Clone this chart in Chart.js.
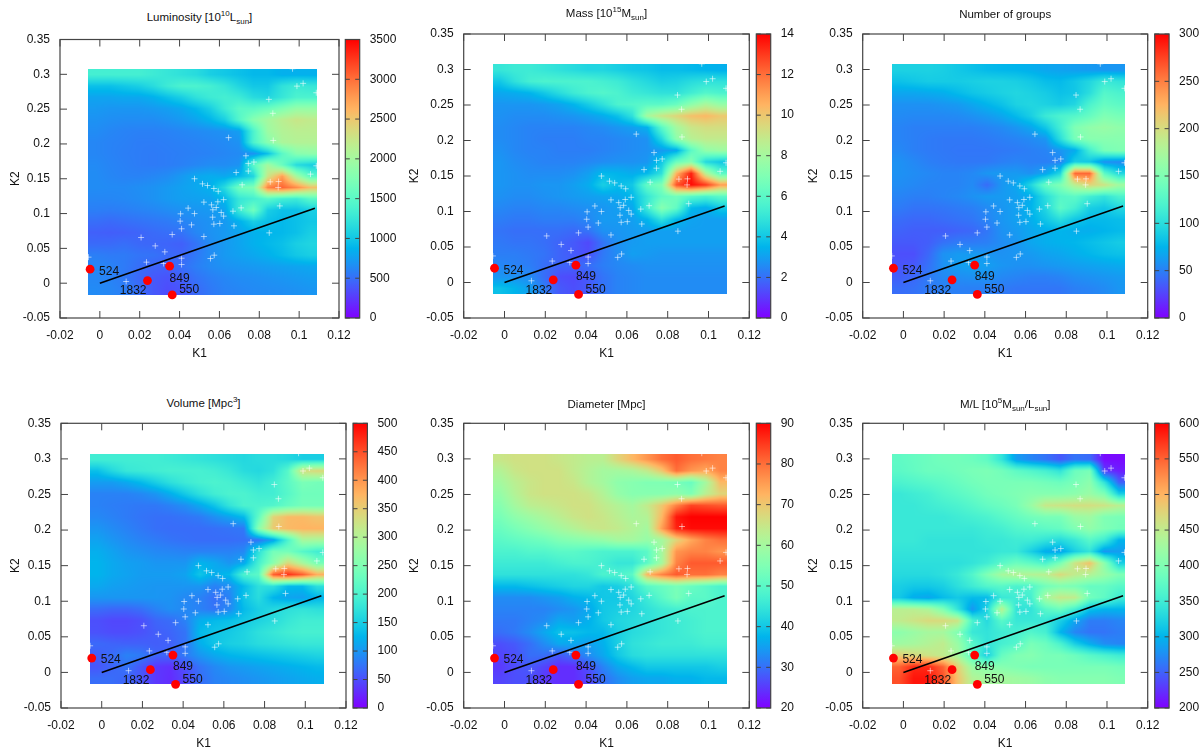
<!DOCTYPE html>
<html>
<head>
<meta charset="utf-8">
<script src="https://cdn.jsdelivr.net/npm/chart.js@4"></script>
<style>
html, body { margin: 0; background: #fff; overflow: hidden; }
#page { position: relative; width: 1200px; height: 756px; overflow: hidden; font-family: "Liberation Sans", sans-serif; color: #111; }
canvas { position: absolute; }
.title { position: absolute; transform: translateX(-50%); white-space: nowrap; font-size: 11.5px; line-height: 14px; }
.title sup, .title sub { font-size: 8px; line-height: 0; }
</style>
</head>
<body>
<div id="page"></div>
<script>
// cell centres of the grid
const k1Cols = [-0.0021, 0.0051, 0.0122, 0.0194, 0.0266, 0.0338, 0.0409, 0.0481, 0.0553, 0.0625, 0.0696, 0.0768, 0.0840, 0.0912, 0.0983, 0.1055];
const k2Rows = [0.2994, 0.2832, 0.2670, 0.2508, 0.2346, 0.2184, 0.2022, 0.1860, 0.1698, 0.1536, 0.1374, 0.1212, 0.1050, 0.0888, 0.0726, 0.0564, 0.0402, 0.0240, 0.0078, -0.0084];
const heatK1 = [-0.0057, 0.109];
const heatK2 = [-0.0165, 0.3075];

const xTicks = [-0.02, 0, 0.02, 0.04, 0.06, 0.08, 0.1, 0.12];
const yTicks = [-0.05, 0, 0.05, 0.1, 0.15, 0.2, 0.25, 0.3, 0.35];

const lumTicks = [0, 500, 1000, 1500, 2000, 2500, 3000, 3500];
const massTicks = [0, 2, 4, 6, 8, 10, 12, 14];
const groupTicks = [0, 50, 100, 150, 200, 250, 300];
const volTicks = [0, 50, 100, 150, 200, 250, 300, 350, 400, 450, 500];
const diamTicks = [20, 30, 40, 50, 60, 70, 80, 90];
const mlTicks = [200, 250, 300, 350, 400, 450, 500, 550, 600];

const clusterK1 = [.0967, .0989, .102, .1086, .0848, .0868, .0646, .087, .0733, .0745, .0773, .0745, .0684, .1086, .1057, .0475, .0515, .054, .0572, .0594, .0714, .0855, .0897, .0895, .0621, .0522, .056, .0592, .0584, .0567, .0443, .0475, .0405, .0609, .0621, .0668, .0709, .0903, .0566, .0403, .0572, .0602, .0673, .046, .041, .0363, .0522, .085, .0207, .0278, .0326, .041, .041, .0555, .0574, .0234, .032, .0132, -.0057];
const clusterK2 = [.308, .283, .287, .2735, .264, .244, .209, .205, .183, .172, .174, .161, .159, .1686, .1566, .15, .1427, .1403, .136, .132, .1413, .1456, .146, .1375, .12, .1164, .1125, .1169, .1087, .1054, .1078, .1, .0996, .1015, .0963, .1034, .1082, .111, .0948, .0891, .0848, .0857, .0824, .0838, .0781, .0699, .067, .0723, .0656, .0536, .045, .0359, .0268, .0354, .0402, .0302, .0283, .0024, .0374];

const lineK1 = [0, 0.1079];
const lineK2 = [0, 0.1078];

const namedK1 = [-0.0049, 0.035, 0.0239, 0.0363];
const namedK2 = [0.0201, 0.0244, 0.0038, -0.0168];
const namedLabels = ['524', '849', '1832', '550'];

const lumGrid = [
[1350,1350,1350,1350,1300,1250,1200,1150,1050,1000,950,900,900,850,850,850],
[950,950,1000,1050,1150,1300,1400,1400,1350,1250,1100,1000,1000,1200,1300,1250],
[780,780,800,800,850,950,1050,1200,1300,1350,1300,1150,1100,1250,1400,1400],
[720,700,700,700,720,750,800,900,1050,1300,1500,1500,1600,1750,1900,1900],
[680,660,650,650,650,680,720,780,880,1050,1450,1800,2000,2150,2250,2200],
[650,620,600,590,590,600,620,640,660,680,750,1400,1950,2100,2150,2150],
[620,600,590,570,570,580,590,600,620,640,680,1400,1800,2050,2100,2100],
[620,600,580,570,560,570,580,590,600,620,640,680,950,1500,1800,1850],
[640,610,590,570,560,570,590,620,650,650,680,1500,2000,1600,1150,1050],
[650,620,600,600,620,650,720,800,830,800,900,1100,2250,2750,2000,1500],
[650,640,640,660,680,720,760,800,850,1150,1650,1750,2900,3050,2850,2550],
[620,620,630,650,680,720,750,760,780,900,1250,1350,1500,1350,1300,1500],
[580,570,580,600,620,650,680,700,720,780,1300,1650,1050,950,950,1050],
[500,480,500,520,540,560,600,650,680,720,850,1050,950,900,950,1000],
[430,420,430,450,480,500,520,620,680,720,780,850,880,900,950,1050],
[480,480,500,470,460,450,430,520,650,720,780,850,900,950,1050,1100],
[580,560,560,530,520,480,460,550,650,720,760,800,850,920,1000,1050],
[620,600,560,500,450,440,500,580,640,680,700,720,740,760,780,800],
[620,600,550,470,400,370,430,520,580,620,650,660,680,700,720,740],
[640,620,580,500,400,340,380,480,550,600,620,640,650,660,680,700]
];

const massGrid = [
[5.0,5.2,5.2,5.0,4.8,4.6,4.4,4.4,4.2,4.0,3.9,3.7,3.7,3.6,3.5,3.4],
[4.0,4.8,5.4,5.6,5.6,5.6,5.6,5.4,5.2,4.8,4.5,4.2,4.3,4.6,4.8,4.8],
[3.2,3.3,3.5,4.0,4.6,5.2,5.6,5.8,5.6,5.2,5.0,4.8,4.8,5.3,5.8,5.6],
[2.8,2.8,2.8,2.9,3.1,3.5,4.1,4.8,5.6,5.8,6.0,6.0,6.4,7.4,8.2,7.6],
[2.7,2.6,2.6,2.6,2.7,2.8,3.0,3.3,3.8,4.8,8.0,9.0,9.6,10.2,10.4,10.0],
[2.6,2.5,2.4,2.4,2.4,2.4,2.5,2.6,2.8,3.0,3.4,6.0,8.0,9.0,9.3,9.3],
[2.6,2.5,2.4,2.3,2.3,2.3,2.4,2.4,2.5,2.6,2.7,4.5,7.4,8.5,8.8,8.8],
[2.7,2.5,2.4,2.4,2.3,2.3,2.3,2.4,2.5,2.6,2.7,2.9,3.2,6.0,7.5,7.8],
[2.8,2.6,2.5,2.4,2.4,2.4,2.5,2.6,2.7,2.7,2.8,4.0,6.5,7.2,4.5,4.0],
[2.8,2.7,2.6,2.6,2.6,2.7,3.0,3.6,3.5,3.3,3.6,4.8,10.5,13.5,8.5,6.0],
[2.8,2.7,2.7,2.8,2.8,3.0,3.3,4.2,3.7,4.0,6.2,7.0,12.5,13.8,13.0,11.0],
[2.7,2.6,2.6,2.7,2.8,2.9,3.0,3.1,3.2,3.6,5.0,6.2,6.6,6.0,5.6,6.0],
[2.5,2.4,2.4,2.5,2.5,2.6,2.7,2.8,3.0,3.2,5.2,7.2,6.2,3.6,3.3,4.0],
[2.3,2.2,2.2,2.3,2.3,2.3,2.5,2.9,2.9,3.0,3.5,4.8,3.6,3.1,3.0,3.0],
[2.1,2.0,2.0,2.0,2.0,1.9,2.1,2.7,2.8,2.9,3.0,3.0,3.0,3.0,3.0,3.0],
[2.2,2.1,2.1,2.0,1.8,1.6,1.3,2.1,2.7,2.9,3.0,3.0,3.0,3.0,3.0,3.0],
[2.3,2.3,2.2,2.1,1.8,1.6,1.4,2.2,2.6,3.0,2.9,2.8,2.8,2.8,2.8,2.8],
[2.5,2.4,2.3,2.0,1.8,1.8,2.0,2.3,2.5,2.6,2.7,2.7,2.7,2.7,2.7,2.7],
[2.8,2.7,2.6,2.0,1.4,1.3,1.6,2.1,2.4,2.5,2.6,2.6,2.6,2.6,2.6,2.6],
[3.8,3.5,3.0,2.3,1.6,1.4,1.6,2.1,2.4,2.5,2.6,2.6,2.6,2.6,2.6,2.6]
];

const groupGrid = [
[92,92,92,90,86,82,78,76,75,72,68,66,64,62,60,60],
[82,85,88,88,88,90,92,92,90,86,80,78,85,95,110,105],
[68,68,70,72,78,84,88,92,95,92,88,82,85,100,125,120],
[58,58,58,60,62,68,75,82,92,95,92,88,95,120,135,130],
[55,54,54,54,55,58,62,68,78,90,110,120,125,135,150,145],
[52,50,50,50,50,50,52,55,60,68,85,115,150,160,165,160],
[52,50,48,47,47,47,48,50,52,55,60,100,145,155,155,155],
[54,50,48,47,46,46,46,47,48,50,52,60,70,115,145,150],
[58,54,50,48,47,47,47,50,52,50,50,52,90,85,58,55],
[58,56,54,52,52,54,60,62,62,58,68,95,260,260,130,95],
[56,54,52,52,52,55,42,60,68,95,135,150,185,205,195,170],
[52,50,50,52,54,58,62,62,65,72,100,125,130,115,105,120],
[48,45,45,46,48,50,55,60,65,75,95,130,115,90,85,95],
[42,40,40,42,44,46,52,60,65,72,85,100,85,78,78,80],
[38,36,36,36,38,40,46,58,62,68,72,75,72,72,75,78],
[34,34,36,44,48,48,50,56,60,68,72,74,76,80,84,88],
[30,30,40,58,62,62,60,58,60,62,66,68,72,76,80,82],
[32,34,44,58,64,66,64,60,58,58,60,62,64,66,68,70],
[36,40,48,54,56,58,58,54,52,50,50,52,56,58,60,62],
[42,44,48,50,50,50,50,48,46,46,46,46,50,52,55,60]
];

const volGrid = [
[190,190,190,190,190,185,180,175,170,165,160,165,165,160,150,150],
[135,160,180,185,190,195,195,195,190,180,165,160,170,210,330,340],
[105,105,115,130,150,170,185,195,200,195,185,175,190,215,245,240],
[85,85,85,90,100,120,145,170,190,200,200,190,190,210,235,235],
[85,82,80,78,78,85,95,115,140,175,200,200,205,225,240,240],
[90,85,80,75,72,72,75,80,95,110,130,220,345,370,370,360],
[100,92,85,78,72,70,70,70,72,75,78,260,355,370,375,375],
[110,100,92,85,80,75,72,70,70,70,72,75,110,200,290,290],
[120,110,100,95,90,88,85,85,85,85,90,170,240,240,210,190],
[125,115,108,105,100,100,100,125,115,100,115,195,260,340,290,240],
[125,115,110,105,105,105,110,140,120,130,200,215,440,470,440,380],
[115,108,105,102,100,100,100,100,85,95,130,170,170,130,130,170],
[100,100,100,100,100,98,90,85,72,85,140,165,125,112,108,125],
[70,66,66,72,85,95,90,85,75,90,130,150,160,170,175,170],
[50,45,45,50,65,70,85,120,130,135,145,155,165,180,190,190],
[52,48,48,52,60,65,75,130,140,145,155,170,180,190,195,195],
[68,64,62,62,60,62,75,120,140,150,155,165,170,175,180,180],
[60,70,85,80,65,65,80,100,115,125,130,135,140,145,150,155],
[55,65,75,55,35,30,50,75,90,100,105,110,115,120,125,130],
[70,70,65,55,35,28,45,70,85,90,95,100,105,110,115,120]
];

const diamGrid = [
[65,66,66,66,65,64,63,63,68,72,76,80,82,80,79,78],
[62,65,66,66,66,64,62,60,60,61,64,70,80,76,74,78],
[60,63,65,66,66,65,62,60,57,56,55,55,54,52,60,72],
[58,62,65,66,66,66,65,62,58,56,56,56,57,55,63,68],
[56,60,63,64,65,66,66,64,62,60,64,70,78,84,83,82],
[54,57,59,61,63,65,66,65,63,61,62,72,88,90,90,90],
[52,54,56,58,60,62,64,65,64,62,60,75,87,89,89,89],
[50,51,52,53,55,56,57,58,60,60,58,60,68,74,78,80],
[48,48,49,49,50,50,49,48,48,48,50,60,76,78,78,76],
[46,46,46,46,47,48,48,47,45,45,50,60,78,82,82,82],
[44,44,44,44,44,44,45,48,48,50,72,78,82,80,80,78],
[38,38,39,40,41,42,42,40,41,44,50,52,54,52,50,48],
[33,33,33,34,35,37,38,40,40,42,46,50,54,50,50,48],
[32,32,32,32,33,34,36,40,41,42,44,46,47,48,48,48],
[31,31,32,33,36,35,37,40,42,43,44,45,46,47,48,48],
[30,31,33,36,39,39,38,38,41,43,44,45,46,47,48,48],
[27,28,30,33,36,36,35,37,41,44,45,46,46,46,47,47],
[26,27,30,30,28,30,33,36,40,43,44,44,44,44,44,44],
[25,27,28,26,24,24,27,32,36,38,40,40,40,40,40,41],
[26,27,27,25,24,24,26,30,33,35,36,36,37,37,38,38]
];

const mlGrid = [
[375,380,385,390,390,385,375,340,285,270,260,245,260,255,205,205],
[372,378,385,385,390,395,398,390,375,365,355,340,385,395,230,215],
[360,365,370,375,382,390,395,395,395,395,390,385,395,410,340,250],
[345,350,355,365,372,380,390,395,400,405,405,405,410,420,400,320],
[345,345,350,355,360,368,378,385,395,420,455,460,465,465,460,445],
[345,345,345,345,350,355,360,370,380,390,395,395,420,425,400,395],
[345,345,345,345,345,345,350,355,365,370,375,380,400,415,400,390],
[345,345,340,340,340,340,345,345,350,350,340,330,345,370,350,300],
[340,340,340,340,340,340,340,345,345,320,295,290,320,340,280,285],
[335,335,335,335,335,340,350,370,385,375,360,395,460,490,410,320],
[330,330,330,335,345,365,400,430,440,440,445,470,450,440,420,400],
[320,315,315,320,335,350,365,370,360,365,390,400,395,380,380,370],
[315,295,290,305,315,305,305,345,350,355,430,455,450,390,375,350],
[445,445,435,400,340,280,325,445,340,340,370,385,355,310,300,300],
[450,460,470,470,460,360,330,370,345,345,345,320,290,265,265,270],
[410,420,430,430,400,345,340,350,355,365,355,300,270,260,260,265],
[425,430,440,450,420,370,340,355,365,395,385,360,320,295,275,270],
[480,470,460,450,430,370,320,380,400,405,395,395,385,370,360,350],
[550,580,580,550,480,420,410,405,400,395,395,395,395,395,395,390],
[560,590,590,560,490,440,430,430,425,420,410,405,405,405,405,400]
];

// frame boxes
const panels = [
    {title: 'Luminosity [10<sup>10</sup>L<sub>sun</sub>]', grid: lumGrid, ticks: lumTicks, l: 60, r: 339, t: 39.5, b: 318, cb: 345.3, k2x: 15, ty: 10},
    {title: 'Mass [10<sup>15</sup>M<sub>sun</sub>]', grid: massGrid, ticks: massTicks, l: 463.7, r: 749.3, t: 34, b: 318, cb: 756.3, k2x: 414, ty: 6},
    {title: 'Number of groups', grid: groupGrid, ticks: groupTicks, l: 862.7, r: 1147.7, t: 34, b: 318, cb: 1154.7, k2x: 813, ty: 7},
    {title: 'Volume [Mpc<sup>3</sup>]', grid: volGrid, ticks: volTicks, l: 61, r: 346, t: 423.3, b: 708, cb: 353, k2x: 15, ty: 396},
    {title: 'Diameter [Mpc]', grid: diamGrid, ticks: diamTicks, l: 463.7, r: 749.3, t: 423.3, b: 708, cb: 756.3, k2x: 414, ty: 397},
    {title: 'M/L [10<sup>5</sup>M<sub>sun</sub>/L<sub>sun</sub>]', grid: mlGrid, ticks: mlTicks, l: 862.7, r: 1147.7, t: 423.3, b: 708, cb: 1154.7, k2x: 813, ty: 397}
];

const labelOffsets = [[9, 2], [0, 12], [-1, 10.5], [7, -5]];
const labelAlign = ['left', 'left', 'right', 'left'];
const inkColor = '#444';
const fontName = '"Liberation Sans", sans-serif';

// gnuplot rgbformulae 33,13,10
function palette(f) {
    return [
        Math.abs(2 * f - 0.5) * 255,
        Math.sin(f * Math.PI) * 255,
        Math.cos(f * Math.PI / 2) * 255
    ].map(c => Math.max(0, Math.min(255, Math.round(c))));
}

const heatPlugin = {
    id: 'heat',
    beforeDatasetsDraw(chart, args, opts) {
        const xs = chart.scales.x, ys = chart.scales.y;
        const cells = chart.data.datasets[0].data;
        const nc = k1Cols.length, nr = k2Rows.length;
        const x0 = Math.round(xs.getPixelForValue(heatK1[0]));
        const x1 = Math.round(xs.getPixelForValue(heatK1[1]));
        const y0 = Math.round(ys.getPixelForValue(heatK2[1]));
        const y1 = Math.round(ys.getPixelForValue(heatK2[0]));
        const w = x1 - x0, h = y1 - y0;
        const off = document.createElement('canvas');
        off.width = w;
        off.height = h;
        const octx = off.getContext('2d');
        const img = octx.createImageData(w, h);
        const dx = k1Cols[1] - k1Cols[0], dy = k2Rows[0] - k2Rows[1];
        for (let py = 0; py < h; py++) {
            const fr = Math.max(0, Math.min(nr - 1.001, (k2Rows[0] - ys.getValueForPixel(y0 + py + 0.5)) / dy));
            const r0 = Math.floor(fr), tr = fr - r0;
            for (let px = 0; px < w; px++) {
                const fc = Math.max(0, Math.min(nc - 1.001, (xs.getValueForPixel(x0 + px + 0.5) - k1Cols[0]) / dx));
                const c0 = Math.floor(fc), tc = fc - c0;
                const top = cells[r0 * nc + c0].v * (1 - tc) + cells[r0 * nc + c0 + 1].v * tc;
                const bot = cells[(r0 + 1) * nc + c0].v * (1 - tc) + cells[(r0 + 1) * nc + c0 + 1].v * tc;
                const rgb = palette(((top * (1 - tr) + bot * tr) - opts.lo) / (opts.hi - opts.lo));
                const i = (py * w + px) * 4;
                img.data[i] = rgb[0];
                img.data[i + 1] = rgb[1];
                img.data[i + 2] = rgb[2];
                img.data[i + 3] = 255;
            }
        }
        octx.putImageData(img, 0, 0);
        chart.ctx.drawImage(off, x0, y0);
    }
};

const namesPlugin = {
    id: 'names',
    afterDatasetsDraw(chart) {
        const ctx = chart.ctx;
        ctx.save();
        ctx.fillStyle = '#111';
        ctx.font = '12px ' + fontName;
        ctx.textBaseline = 'middle';
        namedLabels.forEach((txt, i) => {
            ctx.textAlign = labelAlign[i];
            ctx.fillText(txt,
                chart.scales.x.getPixelForValue(namedK1[i]) + labelOffsets[i][0],
                chart.scales.y.getPixelForValue(namedK2[i]) + labelOffsets[i][1]);
        });
        ctx.restore();
    }
};

// gnuplot style frame with the tics going inwards
const framePlugin = {
    id: 'frame',
    afterDraw(chart, args, opts) {
        const ctx = chart.ctx, a = chart.chartArea;
        ctx.save();
        ctx.strokeStyle = inkColor;
        ctx.lineWidth = 1.2;
        ctx.strokeRect(a.left, a.top, a.right - a.left, a.bottom - a.top);
        ctx.lineWidth = 1;
        ctx.beginPath();
        const len = opts.len;
        chart.scales.y.ticks.forEach(t => {
            const p = chart.scales.y.getPixelForValue(t.value);
            ctx.moveTo(a.left, p); ctx.lineTo(a.left + len, p);
            ctx.moveTo(a.right, p); ctx.lineTo(a.right - len, p);
        });
        if (chart.scales.x.type === 'linear') {
            chart.scales.x.ticks.forEach(t => {
                const p = chart.scales.x.getPixelForValue(t.value);
                ctx.moveTo(p, a.top); ctx.lineTo(p, a.top + len);
                ctx.moveTo(p, a.bottom); ctx.lineTo(p, a.bottom - len);
            });
        }
        ctx.stroke();
        ctx.restore();
    }
};

function addCanvas(left, top, width, height) {
    const c = document.createElement('canvas');
    c.width = width;
    c.height = height;
    c.style.left = left + 'px';
    c.style.top = top + 'px';
    c.style.width = width + 'px';
    c.style.height = height + 'px';
    document.getElementById('page').appendChild(c);
    return c;
}

function buildCells(grid) {
    const cells = [];
    k2Rows.forEach((k2, r) => {
        k1Cols.forEach((k1, c) => {
            cells.push({x: k1, y: k2, v: grid[r][c]});
        });
    });
    return cells;
}

// the library reserves room for half a tick label, here that room is already in the canvas
function noScalePadding(s) {
    s.paddingLeft = 0;
    s.paddingRight = 0;
    s.paddingTop = 0;
    s.paddingBottom = 0;
}

function spawnMain(p) {
    const left = Math.floor(p.l) - 60;
    const top = Math.floor(p.t) - 12;
    const width = Math.ceil(p.r - left) + 16;
    const height = Math.ceil(p.b - top) + 46;
    const axisW = p.l - left;
    const tickFont = {family: fontName, size: 12};
    new Chart(addCanvas(left, top, width, height), {
        type: 'scatter',
        data: {
            datasets: [
                {order: 4, data: buildCells(p.grid), pointRadius: 0},
                {order: 3, data: clusterK1.map((v, i) => ({x: v, y: clusterK2[i]})), pointStyle: 'cross', pointRadius: 3, pointBorderWidth: 0.8, pointBorderColor: 'rgba(255,255,255,0.7)', pointBackgroundColor: 'rgba(255,255,255,0.7)'},
                {order: 2, data: lineK1.map((v, i) => ({x: v, y: lineK2[i]})), showLine: true, borderColor: '#000', borderWidth: 1.6, pointRadius: 0},
                {order: 1, data: namedK1.map((v, i) => ({x: v, y: namedK2[i]})), pointRadius: 4.4, pointBackgroundColor: '#ff0000', pointBorderWidth: 0}
            ]
        },
        plugins: [heatPlugin, namesPlugin, framePlugin],
        options: {
            responsive: false,
            animation: false,
            events: [],
            layout: {padding: {left: 0, top: p.t - top, right: width - (p.r - left), bottom: 0}},
            plugins: {
                legend: {display: false},
                tooltip: {enabled: false},
                heat: {lo: p.ticks[0], hi: p.ticks[p.ticks.length - 1]},
                frame: {len: 7}
            },
            scales: {
                x: {
                    type: 'linear', min: -0.02, max: 0.12,
                    grid: {display: false, drawTicks: false},
                    border: {display: false},
                    afterBuildTicks: s => { s.ticks = xTicks.map(v => ({value: v})); },
                    afterFit: s => { s.height = height - (p.b - top); noScalePadding(s); },
                    ticks: {color: '#111', font: tickFont, padding: 10, maxRotation: 0, autoSkip: false, callback: v => String(v)},
                    title: {display: true, text: 'K1', color: '#111', font: tickFont, padding: {top: 0, bottom: 3}}
                },
                y: {
                    type: 'linear', min: -0.05, max: 0.35,
                    grid: {display: false, drawTicks: false},
                    border: {display: false},
                    afterBuildTicks: s => { s.ticks = yTicks.map(v => ({value: v})); },
                    afterFit: s => { s.width = axisW; noScalePadding(s); },
                    ticks: {color: '#111', font: tickFont, padding: 10, autoSkip: false, callback: v => String(v)},
                    title: {display: true, text: 'K2', color: '#111', font: tickFont, padding: {top: p.k2x - left - 7, bottom: p.k2x - left - 7}}
                }
            }
        }
    });
}

function spawnBar(p) {
    const left = Math.floor(p.cb) - 2;
    const top = Math.floor(p.t) - 12;
    const height = Math.ceil(p.b - top) + 12;
    const barW = 14.4;
    const lo = p.ticks[0], hi = p.ticks[p.ticks.length - 1];
    new Chart(addCanvas(left, top, 60, height), {
        type: 'bar',
        data: {
            labels: ['range'],
            datasets: [{
                data: [[lo, hi]],
                barPercentage: 1,
                categoryPercentage: 1,
                backgroundColor: ctx => {
                    const a = ctx.chart.chartArea;
                    if (!a) return '#fff';
                    const g = ctx.chart.ctx.createLinearGradient(0, a.bottom, 0, a.top);
                    for (let i = 0; i <= 40; i++) {
                        g.addColorStop(i / 40, 'rgb(' + palette(i / 40).join(',') + ')');
                    }
                    return g;
                }
            }]
        },
        plugins: [framePlugin],
        options: {
            responsive: false,
            animation: false,
            events: [],
            layout: {padding: {left: p.cb - left, top: p.t - top, right: 0, bottom: height - (p.b - top)}},
            plugins: {legend: {display: false}, tooltip: {enabled: false}, frame: {len: 4.5}},
            scales: {
                x: {display: false},
                y: {
                    type: 'linear', position: 'right', min: lo, max: hi,
                    grid: {display: false, drawTicks: false},
                    border: {display: false},
                    afterBuildTicks: s => { s.ticks = p.ticks.map(v => ({value: v})); },
                    afterFit: s => { s.width = 60 - (p.cb - left) - barW; noScalePadding(s); },
                    ticks: {color: '#111', font: {family: fontName, size: 12}, padding: 10, autoSkip: false, callback: v => String(v)}
                }
            }
        }
    });
}

panels.forEach(p => {
    spawnMain(p);
    spawnBar(p);
    const d = document.createElement('div');
    d.className = 'title';
    d.innerHTML = p.title;
    d.style.left = ((p.l + p.r) / 2) + 'px';
    d.style.top = p.ty + 'px';
    document.getElementById('page').appendChild(d);
});
</script>
</body>
</html>
